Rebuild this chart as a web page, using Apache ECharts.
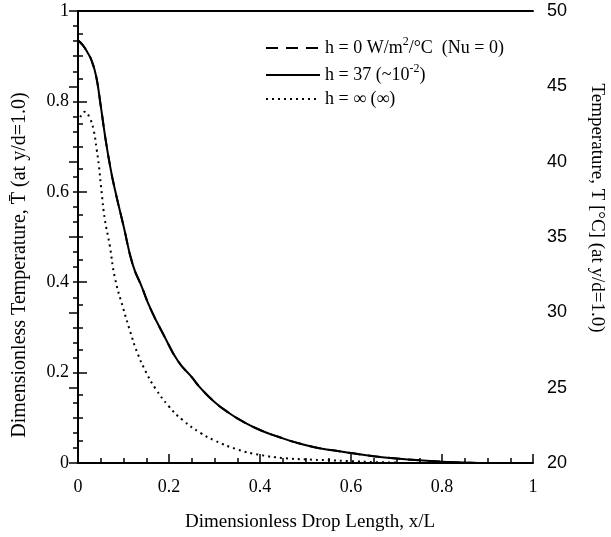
<!DOCTYPE html>
<html><head><meta charset="utf-8">
<script src="https://cdn.jsdelivr.net/npm/echarts@6/dist/echarts.min.js"></script>
<style>html,body{margin:0;padding:0;background:#fff}#c{width:611px;height:537px}</style>
</head><body><div id="c"></div>
<script>
const seriesNames = ['h0', 'h37', 'hinf'];
const xSolid = [0, 0.01, 0.02, 0.03, 0.04, 0.05, 0.06, 0.07, 0.08, 0.1, 0.12, 0.14, 0.16, 0.19, 0.22, 0.25, 0.27, 0.3, 0.33, 0.36, 0.4, 0.44, 0.48, 0.52, 0.56, 0.6, 0.65, 0.7, 0.75, 0.8, 0.85, 0.9, 0.95];
const tH0 =     [0.935, 0.925, 0.91, 0.89, 0.855, 0.79, 0.72, 0.66, 0.61, 0.525, 0.44, 0.39, 0.34, 0.28, 0.225, 0.19, 0.165, 0.135, 0.112, 0.093, 0.073, 0.058, 0.045, 0.035, 0.028, 0.022, 0.015, 0.010, 0.006, 0.003, 0.001, 0.0, 0.0];
const tH37 =    [0.935, 0.925, 0.91, 0.89, 0.855, 0.79, 0.72, 0.66, 0.61, 0.525, 0.44, 0.39, 0.34, 0.28, 0.225, 0.19, 0.165, 0.135, 0.112, 0.093, 0.073, 0.058, 0.045, 0.035, 0.028, 0.022, 0.015, 0.010, 0.006, 0.003, 0.001, 0.0, 0.0];
const xDot = [0.005, 0.015, 0.025, 0.034, 0.041, 0.046, 0.052, 0.059, 0.07, 0.081, 0.1, 0.115, 0.13, 0.15, 0.17, 0.2, 0.23, 0.27, 0.3, 0.35, 0.4, 0.45, 0.5, 0.55, 0.6, 0.65, 0.7];
const tHinf = [0.765, 0.777, 0.765, 0.738, 0.694, 0.657, 0.598, 0.539, 0.48, 0.41, 0.34, 0.29, 0.245, 0.2, 0.165, 0.125, 0.095, 0.066, 0.05, 0.03, 0.018, 0.011, 0.008, 0.006, 0.004, 0.002, 0.001];
const legendLabels = {
  h0: 'h = 0 W/m{sup|2}/°C  (Nu = 0)',
  h37: 'h = 37 (~10{sup|-2})',
  hinf: 'h = ∞ (∞)'
};
const xTitle = 'Dimensionless Drop Length, x/L';
const yLeftTitle = 'Dimensionless Temperature, T\u0304 (at y/d=1.0)';
const yRightTitle = 'Temperature, T [°C] (at y/d=1.0)';

const pair = (xs, ys) => xs.map((x, i) => [x, ys[i]]);
const serif = 'Liberation Serif';
const axisLine = {show: true, lineStyle: {color: '#000', width: 2}};

const chart = echarts.init(document.getElementById('c'));
chart.setOption({
  animation: false,
  backgroundColor: '#fff',
  grid: {left: 78, right: 78, top: 11, bottom: 74, containLabel: false, outerBoundsMode: 'none'},
  legend: {
    orient: 'vertical', left: 260, top: 31, itemWidth: 54, itemHeight: 14, itemGap: 6,
    data: seriesNames,
    itemStyle: {opacity: 0},
    formatter: n => legendLabels[n],
    textStyle: {fontFamily: serif, fontSize: 18, color: '#000',
      rich: {sup: {fontFamily: serif, fontSize: 12, color: '#000', verticalAlign: 'top', padding: [0, 0, 12, 0]}}}
  },
  graphic: [
    {type: 'text', rotation: Math.PI / 2, x: 20, y: 265,
     style: {text: yLeftTitle, font: '20px "Liberation Serif"', fill: '#000', align: 'center', verticalAlign: 'middle'}},
    {type: 'text', rotation: -Math.PI / 2, x: 597, y: 208,
     style: {text: yRightTitle, font: '19px "Liberation Serif"', fill: '#000', align: 'center', verticalAlign: 'middle'}},
    {type: 'text', x: 310, y: 522,
     style: {text: xTitle, font: '19px "Liberation Serif"', fill: '#000', align: 'center', verticalAlign: 'middle'}}
  ],
  xAxis: [{
    type: 'value', min: 0, max: 1, interval: 0.2, position: 'bottom',
    axisLine: axisLine,
    axisTick: {inside: true, length: 9, lineStyle: {color: '#000', width: 1.5}},
    minorTick: {show: true, splitNumber: 4, length: 5, lineStyle: {color: '#000', width: 1.5}},
    splitLine: {show: false},
    axisLabel: {fontFamily: serif, fontSize: 18, color: '#000', margin: 15}
  }, {
    type: 'value', min: 0, max: 1, position: 'top',
    axisLine: axisLine, axisTick: {show: false}, axisLabel: {show: false}, splitLine: {show: false}
  }],
  yAxis: [{
    type: 'value', min: 0, max: 1, interval: 0.2, position: 'left',
    axisLine: axisLine,
    axisTick: {inside: true, length: 9, lineStyle: {color: '#000', width: 1.5}},
    minorTick: {show: true, splitNumber: 4, length: 5, lineStyle: {color: '#000', width: 1.5}},
    splitLine: {show: false},
    axisLabel: {fontFamily: serif, fontSize: 18, color: '#000', margin: 9}
  }, {
    type: 'value', min: 20, max: 50, interval: 5, position: 'right',
    axisLine: axisLine,
    axisTick: {inside: true, length: 9, lineStyle: {color: '#000', width: 1.5}},
    minorTick: {show: true, splitNumber: 5, length: 5, lineStyle: {color: '#000', width: 1.5}},
    splitLine: {show: false},
    axisLabel: {fontFamily: 'Liberation Sans', fontSize: 18, color: '#000', margin: 14}
  }],
  series: [
    {name: 'h0', type: 'line', data: pair(xSolid, tH0), showSymbol: false, symbol: 'none', smooth: true,
     itemStyle: {color: '#000'}, lineStyle: {color: '#000', width: 2, type: [12, 8]}, z: 1},
    {name: 'h37', type: 'line', data: pair(xSolid, tH37), showSymbol: false, symbol: 'none', smooth: true,
     itemStyle: {color: '#000'}, lineStyle: {color: '#000', width: 2, type: 'solid'}, z: 3},
    {name: 'hinf', type: 'line', data: pair(xDot, tHinf), showSymbol: false, symbol: 'none', smooth: true,
     itemStyle: {color: '#000'}, lineStyle: {color: '#000', width: 2, type: [2, 4]}, z: 2}
  ]
});
</script></body></html>
